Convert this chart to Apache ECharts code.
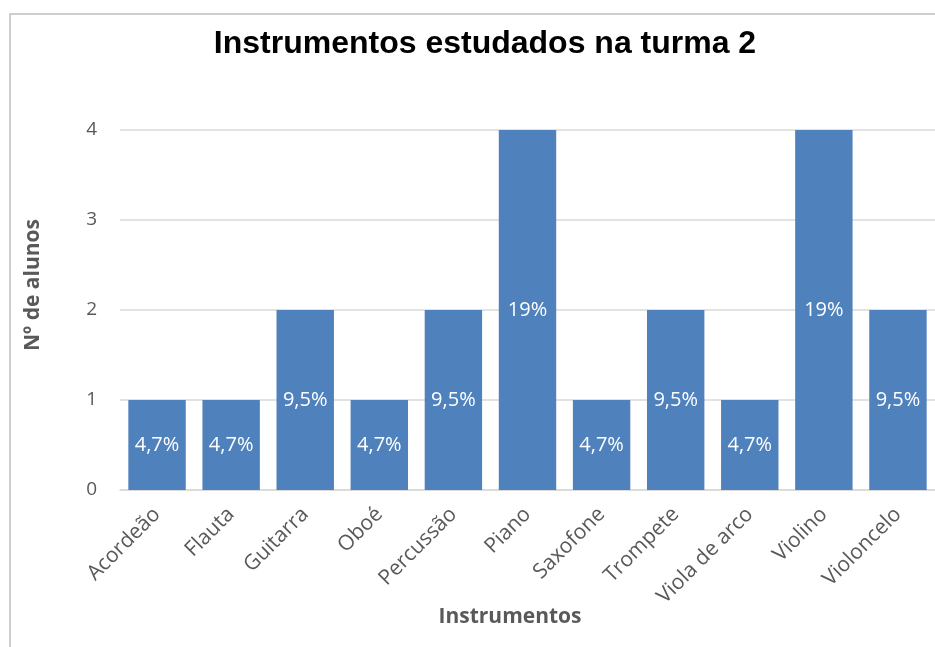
<!DOCTYPE html>
<html>
<head>
<meta charset="utf-8">
<script src="https://cdn.jsdelivr.net/npm/echarts@6/dist/echarts.min.js"></script>
<style>
  html, body { margin: 0; padding: 0; background: #fff; }
  #chart { width: 935px; height: 647px; }
</style>
</head>
<body>
<div id="chart"></div>
<script>
let instrumentos = ['Acordeão', 'Flauta', 'Guitarra', 'Oboé', 'Percussão', 'Piano', 'Saxofone', 'Trompete', 'Viola de arco', 'Violino', 'Violoncelo'];
let alunos = [1, 1, 2, 1, 2, 4, 1, 2, 1, 4, 2];
let percentagens = ['4,7%', '4,7%', '9,5%', '4,7%', '9,5%', '19%', '4,7%', '9,5%', '4,7%', '19%', '9,5%'];
let yTicks = [0, 1, 2, 3, 4];

let chart = echarts.init(document.getElementById('chart'));

let option = {
  animation: false,
  backgroundColor: '#fff',
  title: {
    text: 'Instrumentos estudados na turma 2',
    left: 480,
    textAlign: 'center',
    top: 23,
    textStyle: {
      fontFamily: 'Liberation Sans',
      fontWeight: 'bold',
      fontSize: 32,
      color: '#000'
    }
  },
  graphic: [
    {
      type: 'rect',
      shape: { x: 10, y: 14, width: 940, height: 650 },
      style: { fill: 'none', stroke: '#bfbfbf', lineWidth: 1.5 },
      silent: true
    },
    {
      type: 'text',
      x: 33,
      y: 285,
      rotation: Math.PI / 2,
      style: {
        text: 'Nº de alunos',
        fontFamily: 'Open Sans',
        fontWeight: 'bold',
        fontSize: 21,
        fill: '#595959',
        align: 'center',
        verticalAlign: 'middle'
      }
    },
    {
      type: 'text',
      x: 510,
      y: 617,
      style: {
        text: 'Instrumentos',
        fontFamily: 'Open Sans',
        fontWeight: 'bold',
        fontSize: 21,
        fill: '#595959',
        align: 'center',
        verticalAlign: 'middle'
      }
    }
  ],
  grid: {
    left: 120,
    top: 130,
    width: 819,
    height: 360
  },
  xAxis: {
    type: 'category',
    data: instrumentos,
    axisLine: { lineStyle: { color: '#d9d9d9', width: 1.5 } },
    axisTick: { show: false },
    axisLabel: {
      rotate: 45,
      interval: 0,
      margin: 21,
      fontFamily: 'Open Sans',
      fontSize: 21,
      color: '#595959'
    }
  },
  yAxis: {
    type: 'value',
    min: yTicks[0],
    max: yTicks[yTicks.length - 1],
    interval: 1,
    axisLine: { show: false },
    axisTick: { show: false },
    splitLine: { lineStyle: { color: '#d9d9d9', width: 1.5 } },
    axisLabel: {
      margin: 23,
      fontFamily: 'Open Sans',
      fontSize: 19,
      color: '#595959'
    }
  },
  series: [{
    type: 'bar',
    data: alunos,
    barCategoryGap: '22.5%',
    itemStyle: { color: '#4F81BD' },
    label: {
      show: true,
      position: 'inside',
      formatter: p => percentagens[p.dataIndex],
      fontFamily: 'Open Sans',
      fontSize: 20,
      color: '#fff'
    }
  }]
};

chart.setOption(option);
</script>
</body>
</html>
